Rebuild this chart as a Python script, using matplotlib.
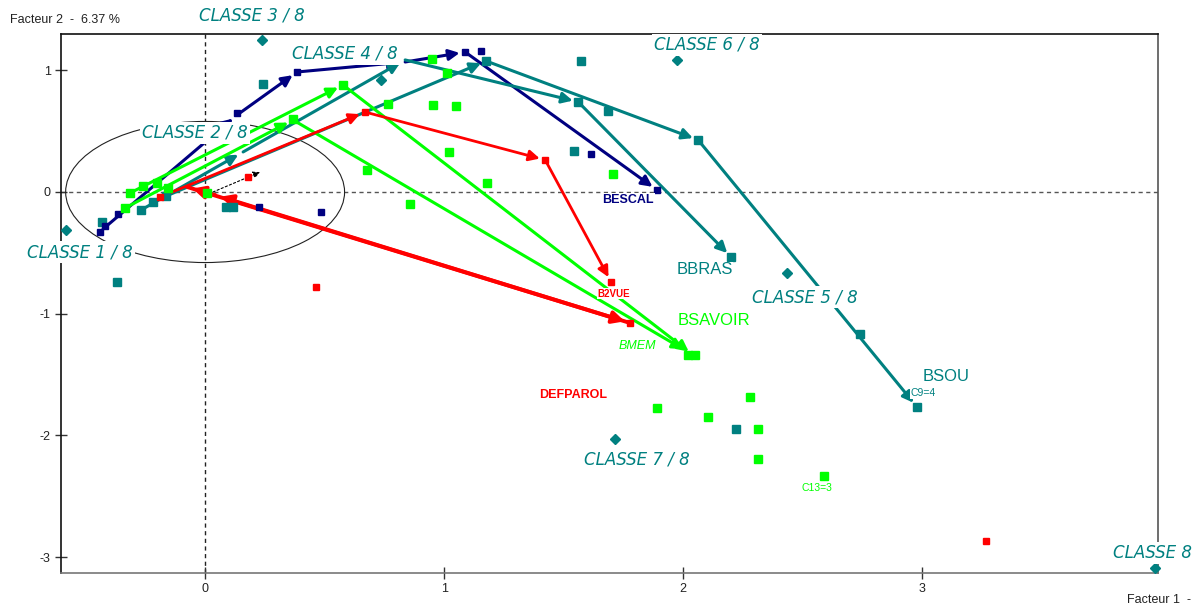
import matplotlib
matplotlib.use("Agg")
import matplotlib.pyplot as plt
from matplotlib.patches import Ellipse

# ---- colours
NAVY = "#000080"
TEAL = "#008080"
LIME = "#00FF00"
RED = "#FF0000"

# ---- class centroids (diamonds)
class_x = [-0.582, 0.238, 0.736, 2.435, 1.975, 1.715, 3.975]
class_y = [-0.312, 1.249, 0.920, -0.666, 1.085, -2.030, -3.090]

# ---- class labels
class_labels = ["CLASSE 1 / 8", "CLASSE 2 / 8", "CLASSE 3 / 8", "CLASSE 4 / 8",
                "CLASSE 5 / 8", "CLASSE 6 / 8", "CLASSE 7 / 8", "CLASSE 8"]
class_label_x = [-0.523, -0.042, 0.197, 0.586, 2.510, 2.100, 1.808, 4.130]
class_label_y = [-0.493, 0.485, 1.446, 1.134, -0.863, 1.208, -2.194, -2.966]
class_label_ha = ["center", "center", "center", "center", "center", "center", "center", "right"]

# ---- modality points
teal_x = [-0.431, -0.368, -0.268, -0.218, -0.163, 0.088, 0.117, 0.243, 1.176, 1.573,
          1.561, 1.686, 1.544, 2.063, 2.201, 2.741, 2.979, 2.222]
teal_y = [-0.247, -0.740, -0.148, -0.082, -0.033, -0.123, -0.123, 0.887, 1.076, 1.076,
          0.740, 0.666, 0.337, 0.427, -0.534, -1.167, -1.767, -1.947]

navy_x = [-0.439, -0.364, -0.418, 0.134, 0.385, 1.088, 1.155, 1.615, 1.891, 0.226, 0.485]
navy_y = [-0.329, -0.181, -0.279, 0.649, 0.986, 1.150, 1.159, 0.312, 0.016, -0.123, -0.164]

lime_x = [-0.314, -0.259, -0.201, -0.155, -0.335, 0.008, 0.368, 0.577, 0.766, 0.678,
          0.858, 0.950, 1.013, 0.954, 1.050, 1.021, 1.180, 1.707, 2.021, 2.050,
          2.280, 1.891, 2.105, 2.314, 2.314, 2.590]
lime_y = [-0.008, 0.049, 0.074, 0.033, -0.131, -0.008, 0.600, 0.879, 0.723, 0.181,
          -0.099, 1.093, 0.978, 0.715, 0.707, 0.329, 0.074, 0.148, -1.339, -1.339,
          -1.684, -1.775, -1.849, -1.947, -2.194, -2.334]

red_x = [0.180, 0.464, 3.268, 0.669, 1.423, 1.699, 1.778, -0.188]
red_y = [0.123, -0.781, -2.868, 0.657, 0.263, -0.740, -1.076, -0.041]

# ---- trajectories (successive positions of a variable's modalities)
bescal_x = [-0.427, 0.134, 0.385, 0.837, 1.088, 1.891]
bescal_y = [-0.304, 0.633, 0.986, 1.068, 1.150, 0.016]

bbras_x = [-0.268, 0.159, 0.837, 1.561, 2.201]
bbras_y = [-0.148, 0.329, 1.085, 0.740, -0.534]

bsou_x = [-0.163, 1.176, 2.063, 2.979]
bsou_y = [-0.033, 1.076, 0.427, -1.767]

bsavoir_x = [-0.314, 0.577, 2.042]
bsavoir_y = [-0.008, 0.879, -1.339]

bmem_x = [-0.335, 0.368, 2.021]
bmem_y = [-0.131, 0.592, -1.315]

b2vue_x = [-0.188, 0.669, 1.423, 1.699]
b2vue_y = [-0.041, 0.657, 0.263, -0.740]

defparol_x = [-0.075, 1.778, 0.042, -0.075]
defparol_y = [0.041, -1.076, -0.025, 0.041]

small_x = [0.033, 0.251]
small_y = [0.000, 0.181]

# ---- variable names
var_names = ["BESCAL", "BBRAS", "BSAVOIR", "BMEM", "B2VUE", "DEFPAROL", "BSOU", "C9=4", "C13=3"]
var_x = [1.770, 2.090, 2.130, 1.810, 1.710, 1.540, 3.100, 3.005, 2.560]
var_y = [-0.065, -0.640, -1.055, -1.265, -0.835, -1.665, -1.515, -1.650, -2.435]
var_col = [NAVY, TEAL, LIME, LIME, RED, RED, TEAL, TEAL, LIME]
var_size = [9, 12, 12, 9, 7, 9, 12, 7.5, 7.5]
var_weight = ["bold", "normal", "normal", "normal", "bold", "bold", "normal", "normal", "normal"]
var_style = ["normal", "normal", "normal", "italic", "normal", "normal", "normal", "normal", "normal"]

plt.rcParams["font.family"] = ["Liberation Sans", "DejaVu Sans"]

fig = plt.figure(figsize=(11.96, 6.05), dpi=100)
ax = fig.add_axes([61 / 1196, 1 - 573 / 605, (1158 - 61) / 1196, (573 - 34) / 605])
ax.set_xlim(-0.603, 3.987)
ax.set_ylim(-3.13, 1.298)

# frame
for side, col in [("top", "#111111"), ("left", "#111111"), ("right", "#555555"), ("bottom", "#777777")]:
    ax.spines[side].set_color(col)
    ax.spines[side].set_linewidth(1.2)

ax.set_xticks([0, 1, 2, 3])
ax.set_yticks([1, 0, -1, -2, -3])
ax.set_xticklabels(["0", "1", "2", "3"])
ax.set_yticklabels(["1", "0", "-1", "-2", "-3"])
ax.tick_params(direction="inout", length=8, width=1, colors="#333333", labelsize=9, labelcolor="#222222")

# axes through the origin
ax.axhline(0, color="#555555", lw=1, ls=(0, (3, 2.5)), zorder=1)
ax.axvline(0, color="#222222", lw=1, ls=(0, (3, 2.5)), zorder=1)

ax.add_patch(Ellipse((0, 0), 1.167, 1.159, fill=False, color="#222222", lw=0.8, zorder=2))


def trajectory(xs, ys, color, lw=2.2, head=16, ls="-"):
    for i in range(len(xs) - 1):
        ax.annotate("", xy=(xs[i + 1], ys[i + 1]), xytext=(xs[i], ys[i]),
                    arrowprops=dict(arrowstyle="-|>", mutation_scale=head, color=color,
                                    lw=lw, ls=ls, shrinkA=0, shrinkB=4),
                    zorder=4)


trajectory(bescal_x, bescal_y, NAVY)
trajectory(bbras_x, bbras_y, TEAL)
trajectory(bsou_x, bsou_y, TEAL)
trajectory(bsavoir_x, bsavoir_y, LIME)
trajectory(bmem_x, bmem_y, LIME)
trajectory(b2vue_x, b2vue_y, RED, lw=2.0)
trajectory(defparol_x, defparol_y, RED, lw=2.8, head=18)
trajectory(small_x, small_y, "black", lw=0.8, head=10, ls=(0, (2, 2)))

ax.plot(teal_x, teal_y, "s", color=TEAL, ms=6, zorder=5)
ax.plot(navy_x, navy_y, "s", color=NAVY, ms=4, zorder=5)
ax.plot(lime_x, lime_y, "s", color=LIME, ms=6, zorder=5)
ax.plot(red_x, red_y, "s", color=RED, ms=4.5, zorder=5)
ax.plot(class_x, class_y, "D", color=TEAL, ms=5, zorder=6, clip_on=False)

for lab, x, y, ha in zip(class_labels, class_label_x, class_label_y, class_label_ha):
    ax.text(x, y, lab, color=TEAL, fontsize=12, fontstyle="italic", family="DejaVu Sans",
            ha=ha, va="center", zorder=10, clip_on=False,
            bbox=dict(facecolor="white", edgecolor="none", pad=1.5))

for name, x, y, c, s, w, st in zip(var_names, var_x, var_y, var_col, var_size, var_weight, var_style):
    ax.text(x, y, name, color=c, fontsize=s, fontweight=w, fontstyle=st, ha="center", va="center",
            zorder=9, bbox=dict(facecolor="white", edgecolor="none", pad=0.5))

fig.text(10 / 1196, 1 - 20 / 605, "Facteur 2  -  6.37 %", fontsize=9, color="#222222", va="center")
fig.text(1127 / 1196, 1 - 600 / 605, "Facteur 1  -", fontsize=9, color="#222222", va="center")

fig.savefig("out.png", dpi=100, facecolor="white")
